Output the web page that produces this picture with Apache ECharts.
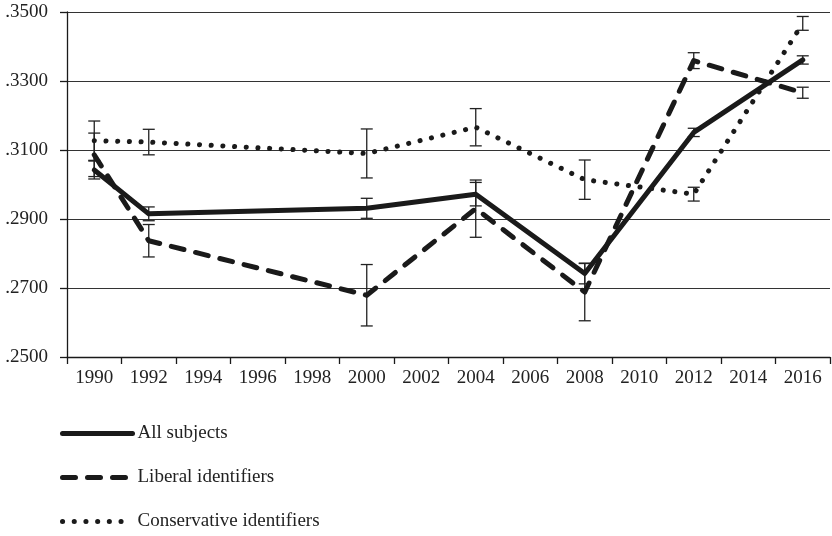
<!DOCTYPE html>
<html>
<head>
<meta charset="utf-8">
<script src="https://cdn.jsdelivr.net/npm/echarts@6/dist/echarts.min.js"></script>
<style>
  html, body { margin: 0; padding: 0; background: #fff; }
  #chart { width: 832px; height: 536px; }
</style>
</head>
<body>
<div id="chart"></div>
<script>
// Survey years shown on the horizontal axis
const years = ['1990','1992','1994','1996','1998','2000','2002','2004','2006','2008','2010','2012','2014','2016'];

// Mean scores by group (null = no survey that year)
const allSubjects   = [0.3042, 0.2915, null, null, null, 0.2931, null, 0.2972, null, 0.2742, null, 0.3151, null, 0.3361];
const liberalIds    = [0.3086, 0.2837, null, null, null, 0.2679, null, 0.2930, null, 0.2688, null, 0.3359, null, 0.3266];
const conservIds    = [0.3127, 0.3123, null, null, null, 0.3090, null, 0.3166, null, 0.3014, null, 0.2972, null, 0.3467];

// Half-widths of the confidence intervals
const allSubjectsErr = [0.0026, 0.0020, null, null, null, 0.0029, null, 0.0034, null, 0.0030, null, 0.0012, null, 0.0012];
const liberalErr     = [0.0063, 0.0047, null, null, null, 0.0089, null, 0.0083, null, 0.0083, null, 0.0023, null, 0.0016];
const conservErr     = [0.0057, 0.0037, null, null, null, 0.0071, null, 0.0054, null, 0.0057, null, 0.0020, null, 0.0020];

// Y axis range and step
const yMin = 0.25, yMax = 0.35, yStep = 0.02;

const FONT = "'Liberation Serif', 'DejaVu Serif', serif";
const INK = '#1a1a1a';

// Stroke styles shared by each line and its legend sample
const solidStyle  = { color: INK, width: 5, type: 'solid', cap: 'round', join: 'round' };
const dashedStyle = { color: INK, width: 5, type: [13, 12], cap: 'round', join: 'round' };
const dottedStyle = { color: INK, width: 5, type: [0.1, 11.6], cap: 'round', join: 'round' };

function intervals(values, errs) {
  const out = [];
  values.forEach((v, i) => {
    if (v != null && errs[i] != null) out.push([i, v - errs[i], v + errs[i]]);
  });
  return out;
}

function errorBarSeries(name, values, errs) {
  return {
    type: 'custom',
    name: name + ' CI',
    z: 1,
    silent: true,
    data: intervals(values, errs),
    encode: { x: 0, y: [1, 2] },
    renderItem: function (params, api) {
      const lo = api.coord([api.value(0), api.value(1)]);
      const hi = api.coord([api.value(0), api.value(2)]);
      const half = 6;
      const style = { stroke: '#222', lineWidth: 1.3 };
      return {
        type: 'group',
        children: [
          { type: 'line', shape: { x1: lo[0], y1: lo[1], x2: hi[0], y2: hi[1] }, style: style },
          { type: 'line', shape: { x1: lo[0] - half, y1: lo[1], x2: lo[0] + half, y2: lo[1] }, style: style },
          { type: 'line', shape: { x1: hi[0] - half, y1: hi[1], x2: hi[0] + half, y2: hi[1] }, style: style }
        ]
      };
    }
  };
}

const chart = echarts.init(document.getElementById('chart'), null, { renderer: 'canvas' });

chart.setOption({
  animation: false,
  backgroundColor: '#fff',
  textStyle: { fontFamily: FONT },
  grid: { left: 67, right: 2, top: 12, bottom: 179, containLabel: false },
  legend: {
    data: [
      { name: 'All subjects', lineStyle: solidStyle, itemStyle: { opacity: 0 } },
      { name: 'Liberal identifiers', lineStyle: dashedStyle, itemStyle: { opacity: 0 } },
      { name: 'Conservative identifiers', lineStyle: dottedStyle, itemStyle: { opacity: 0 } }
    ],
    orient: 'vertical',
    left: 60,
    top: 424,
    padding: 0,
    itemGap: 25,
    itemWidth: 70,
    itemHeight: 14,
    selectedMode: false,
    itemStyle: { opacity: 0 },
    textStyle: { fontFamily: FONT, fontSize: 19, color: '#222' }
  },
  xAxis: {
    type: 'category',
    data: years,
    boundaryGap: true,
    axisLine: { show: true, lineStyle: { color: INK, width: 1.3 } },
    axisTick: { show: true, length: 7, interval: 0, lineStyle: { color: INK, width: 1.3 } },
    axisLabel: { interval: 0, margin: 12, fontFamily: FONT, fontSize: 19, color: '#222' },
    splitLine: { show: false }
  },
  yAxis: {
    type: 'value',
    min: yMin,
    max: yMax,
    interval: yStep,
    axisLine: { show: true, lineStyle: { color: INK, width: 1.3 } },
    axisTick: { show: true, length: 7, lineStyle: { color: INK, width: 1.3 } },
    axisLabel: {
      margin: 19,
      fontFamily: FONT,
      fontSize: 19,
      color: '#222',
      formatter: function (v) { return '.' + Math.round(v * 10000).toString(); }
    },
    splitLine: { show: true, lineStyle: { color: '#333', width: 1.2 } }
  },
  series: [
    errorBarSeries('Conservative identifiers', conservIds, conservErr),
    errorBarSeries('Liberal identifiers', liberalIds, liberalErr),
    errorBarSeries('All subjects', allSubjects, allSubjectsErr),
    {
      name: 'Conservative identifiers',
      type: 'line',
      z: 2,
      data: conservIds,
      connectNulls: true,
      symbol: 'none',
      color: INK,
      lineStyle: dottedStyle
    },
    {
      name: 'Liberal identifiers',
      type: 'line',
      z: 3,
      data: liberalIds,
      connectNulls: true,
      symbol: 'none',
      color: INK,
      lineStyle: dashedStyle
    },
    {
      name: 'All subjects',
      type: 'line',
      z: 4,
      data: allSubjects,
      connectNulls: true,
      symbol: 'none',
      color: INK,
      lineStyle: solidStyle
    }
  ]
});
</script>
</body>
</html>
